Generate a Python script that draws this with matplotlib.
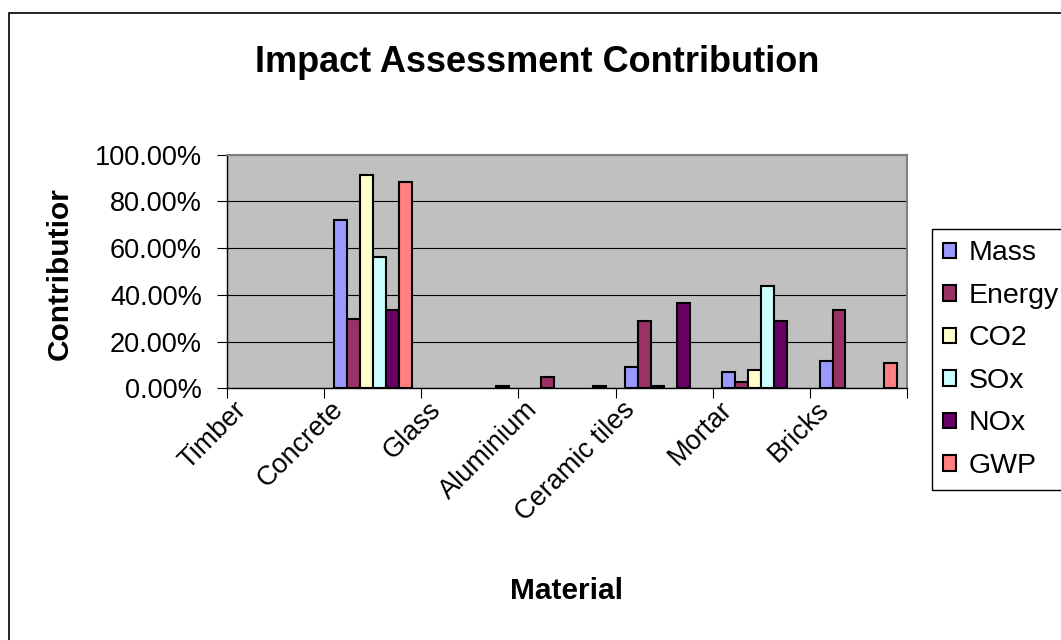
#!/usr/bin/env python3

import matplotlib
import numpy as np

matplotlib.use('Agg')

import matplotlib.pyplot as plt  # noqa: E402
from matplotlib import transforms  # noqa: E402
from matplotlib.patches import Rectangle  # noqa: E402
from matplotlib.ticker import PercentFormatter  # noqa: E402

nan = np.nan

MATERIALS = ['Timber', 'Concrete', 'Glass', 'Aluminium', 'Ceramic tiles', 'Mortar', 'Bricks']
SERIES = ['Mass', 'Energy', 'CO2', 'SOx', 'NOx', 'GWP']

# share of each impact per material (blank cells are nan)
MASS = [nan, 0.72, nan, nan, 0.09, 0.068, 0.118]
ENERGY = [nan, 0.295, nan, 0.05, 0.287, 0.029, 0.336]
CO2 = [nan, 0.913, nan, nan, 0.01, 0.08, nan]
SOX = [nan, 0.563, nan, nan, nan, 0.437, nan]
NOX = [nan, 0.334, nan, nan, 0.366, 0.287, nan]
GWP = [nan, 0.882, 0.008, 0.008, nan, nan, 0.107]

COLORS = ['#9999FF', '#993366', '#FFFFCC', '#CCFFFF', '#660066', '#FF8080']

W, H = 1061, 640


def main():
    plt.rcParams['font.family'] = ['Liberation Sans', 'DejaVu Sans']
    fig = plt.figure(figsize=(W / 100, H / 100), dpi=100)
    fig.patch.set_facecolor('white')

    # outer chart border (cut off at the right and bottom)
    fig.add_artist(Rectangle((8.7 / W, -0.1), 1.2, (H - 13) / H + 0.1,
                             transform=fig.transFigure, fill=False,
                             edgecolor='black', linewidth=1.2))

    ax = fig.add_axes([227 / W, (H - 388.3) / H, 680 / W, 233.6 / H])
    ax.set_facecolor('#C0C0C0')

    x = np.arange(len(MATERIALS))
    width = 0.8 / len(SERIES)
    values = [MASS, ENERGY, CO2, SOX, NOX, GWP]
    for i, (name, vals, color) in enumerate(zip(SERIES, values, COLORS)):
        ax.bar(x - 0.4 + width * (i + 0.5), vals, width, color=color,
               edgecolor='black', linewidth=1.5, label=name, zorder=3)

    ax.set_xlim(-0.5, len(MATERIALS) - 0.5)
    ax.set_ylim(0, 1)
    ax.set_yticks(np.arange(0, 1.01, 0.2))
    ax.yaxis.set_major_formatter(PercentFormatter(xmax=1, decimals=2))
    ax.yaxis.grid(True, color='black', linewidth=0.8)
    ax.set_axisbelow(True)
    ax.tick_params(axis='y', length=7, width=0.8, pad=11, labelsize=19.5)

    ax.set_xticks(np.arange(-0.5, len(MATERIALS), 1))
    ax.set_xticks(x, minor=True)
    ax.tick_params(axis='x', which='major', length=7, width=0.8, labelbottom=False)
    ax.tick_params(axis='x', which='minor', length=0, pad=6)
    ax.set_xticklabels(MATERIALS, minor=True, rotation=45, ha='right', fontsize=19.5)
    shift = transforms.ScaledTranslation(-24 / 100, 0, fig.dpi_scale_trans)
    for lab in ax.get_xticklabels(minor=True):
        lab.set_transform(lab.get_transform() + shift)

    for side in ('left', 'bottom'):
        ax.spines[side].set_color('black')
        ax.spines[side].set_linewidth(1.0)
    for side in ('top', 'right'):
        ax.spines[side].set_color('#808080')
        ax.spines[side].set_linewidth(1.5)

    ax.set_ylabel('Contributior', fontsize=21.5, fontweight='bold')
    ax.yaxis.set_label_coords(-0.225, 0.49)
    ax.set_xlabel('Material', fontsize=21.5, fontweight='bold')
    ax.xaxis.set_label_coords(0.5, -0.808)

    fig.text(537 / W, 1 - 72 / H, 'Impact Assessment Contribution',
             ha='center', va='baseline', fontsize=26, fontweight='bold')

    leg = ax.legend(loc='upper left', bbox_to_anchor=(931.7 / W, 1 - 229 / H),
                    bbox_transform=fig.transFigure, fancybox=False,
                    edgecolor='black', framealpha=1, fontsize=20.5,
                    handlelength=0.46, handleheight=0.46, handletextpad=0.43,
                    labelspacing=0.58, borderpad=0.4, borderaxespad=0)
    leg.get_frame().set_linewidth(1.0)

    fig.savefig('out.png', dpi=100)
    plt.close(fig)


if __name__ == '__main__':
    main()
